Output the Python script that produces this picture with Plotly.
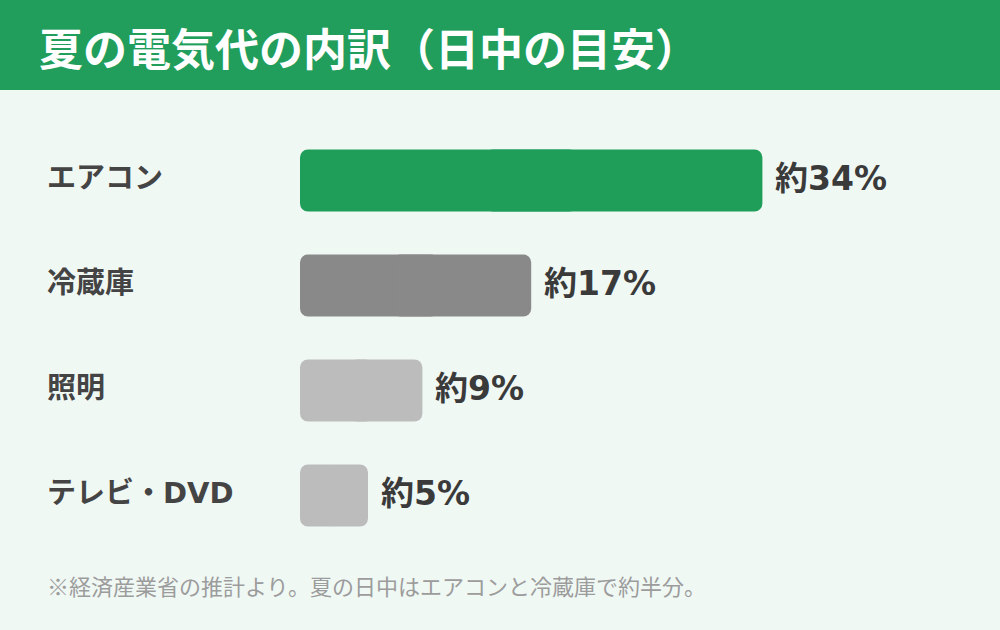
import plotly.graph_objects as go

# Data
categories = ["エアコン", "冷蔵庫", "照明", "テレビ・DVD"]
values = [34, 17, 9, 5]
value_labels = ["約34%", "約17%", "約9%", "約5%"]
bar_colors = ["#1f9e5a", "#898989", "#bcbcbc", "#bcbcbc"]
title_text = "夏の電気代の内訳（日中の目安）"
note_text = "※経済産業省の推計より。夏の日中はエアコンと冷蔵庫で約半分。"

W, H = 1000, 630
ML, MR, MT, MB = 300, 20, 128, 82
PW = W - ML - MR
PH = H - MT - MB

def px_x(px):
    return (px - ML) / PW

def px_y(py):
    return (H - MB - py) / PH

BG = "#f0f8f4"
GREEN = "#219e5c"
JP = "Noto Sans CJK JP"

fig = go.Figure()
# Each bar drawn as two overlapping halves so both ends get rounded corners:
# left half grows from its base back to 0 (rounded at 0), right half grows to the value.
left_base = [v * 0.6 for v in values]
left_len = [-b for b in left_base]
right_base = [v * 0.4 for v in values]
right_len = [v - b for v, b in zip(values, right_base)]

fig.add_trace(go.Bar(
    x=left_len, base=left_base, y=categories, orientation="h",
    marker=dict(color=bar_colors, line=dict(width=0), opacity=1),
    width=0.59, hoverinfo="skip",
))
fig.add_trace(go.Bar(
    x=right_len, base=right_base, y=categories, orientation="h",
    marker=dict(color=bar_colors, line=dict(width=0), opacity=1),
    width=0.59, hoverinfo="skip",
))

fig.update_layout(
    width=W, height=H,
    margin=dict(l=ML, r=MR, t=MT, b=MB),
    paper_bgcolor=BG, plot_bgcolor=BG,
    barmode="overlay",
    barcornerradius=8,
    showlegend=False,
    xaxis=dict(range=[0, 50], visible=False, fixedrange=True),
    yaxis=dict(categoryorder="array", categoryarray=categories,
               range=[3.5, -0.5], visible=False, fixedrange=True),
)

# Header band
fig.add_shape(type="rect", xref="paper", yref="paper",
              x0=px_x(0), x1=px_x(W), y0=px_y(90), y1=px_y(0),
              fillcolor=GREEN, line=dict(width=0), layer="below")

annotations = []
annotations.append(dict(
    text=title_text, xref="paper", yref="paper",
    x=px_x(37), y=px_y(47), xanchor="left", yanchor="middle",
    showarrow=False,
    font=dict(family=JP, size=44, color="#ffffff", weight="bold"),
))

for cat, v, lab in zip(categories, values, value_labels):
    annotations.append(dict(
        text=cat, xref="paper", yref="y", x=px_x(45), y=cat,
        xanchor="left", yanchor="middle", yshift=3, showarrow=False,
        font=dict(family="DejaVu Sans, " + JP, size=29, color="#444444", weight="bold"),
    ))
    annotations.append(dict(
        text=lab, xref="x", yref="y", x=v, y=cat,
        xanchor="left", yanchor="middle", xshift=11, yshift=2, showarrow=False,
        font=dict(family="DejaVu Sans, " + JP, size=33, color="#3a3a3a", weight="bold"),
    ))

annotations.append(dict(
    text=note_text, xref="paper", yref="paper",
    x=px_x(45), y=px_y(585), xanchor="left", yanchor="middle",
    showarrow=False,
    font=dict(family=JP, size=22, color="#9c9c9c"),
))

fig.update_layout(annotations=annotations)
fig.write_html("out.html")
